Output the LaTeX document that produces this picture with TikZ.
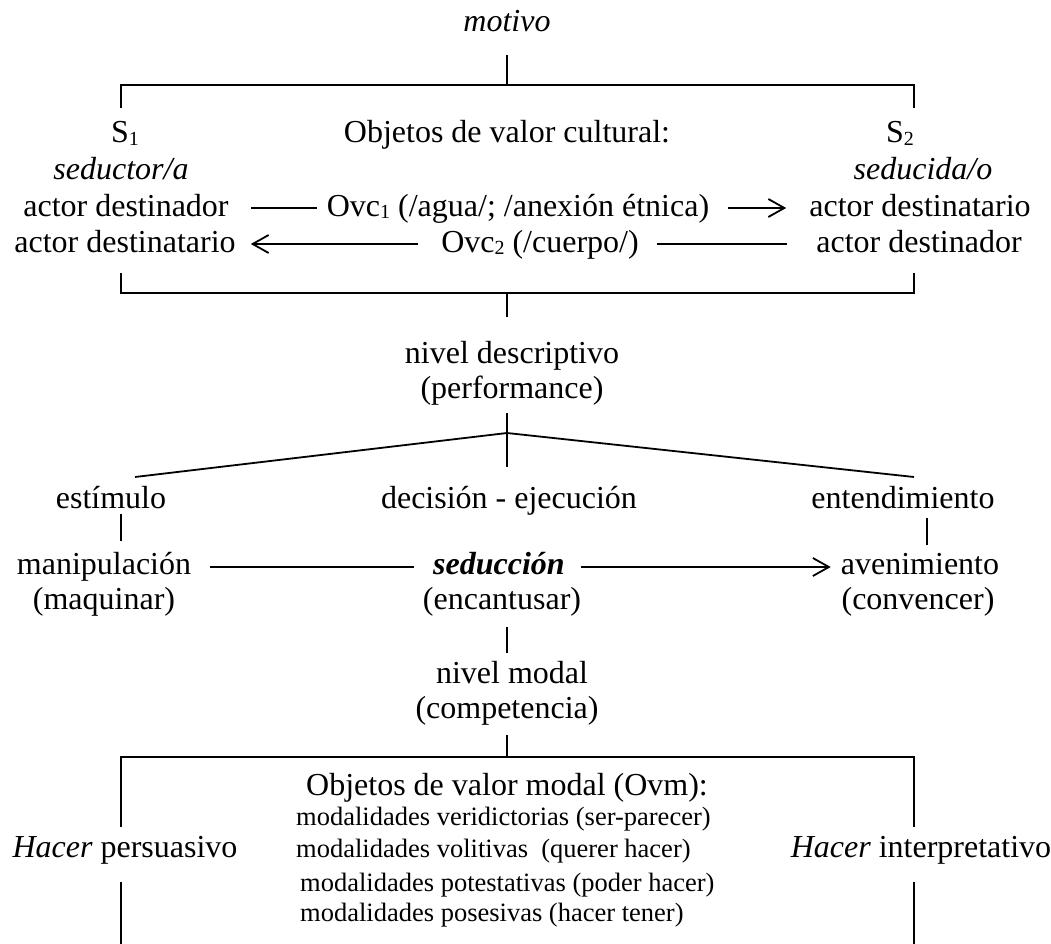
\documentclass[tikz,border=0pt]{standalone}
\usepackage{fontspec}
\setmainfont{Liberation Serif}
\usetikzlibrary{arrows.meta}
\newcommand{\lowsub}[1]{\raisebox{-0.08em}{\fontsize{20}{20}\selectfont #1}}
\tikzset{
  lbl/.style={inner sep=0pt, anchor=base, font=\fontsize{32}{38}\selectfont},
  sml/.style={inner sep=0pt, anchor=base west, font=\fontsize{26.5}{30}\selectfont},
  ln/.style={line width=1.8pt},
  arr/.style={line width=1.8pt, -{Straight Barb[length=16pt,width=18pt,line width=1.8pt]}}
}
\begin{document}
\begin{tikzpicture}[x=1pt,y=-1pt]
\useasboundingbox (0,0) rectangle (1051,944);
% texts
\node[lbl] (motivo) at (507,32) {\itshape motivo};
\node[lbl] (s1) at (125,143) {S\lowsub{1}};
\node[lbl] (ovc) at (507,143) {Objetos de valor cultural:};
\node[lbl] (s2) at (900,143) {S\lowsub{2}};
\node[lbl] (sedr) at (121,179) {\itshape seductor/a};
\node[lbl] (sedd) at (923,179) {\itshape seducida/o};
\node[lbl] (ad1) at (126,216) {actor destinador};
\node[lbl] (ovc1) at (518,216) {Ovc\lowsub{1} (/agua/; /anexión étnica)};
\node[lbl] (adt1) at (920,216) {actor destinatario};
\node[lbl] (adt2) at (125,252) {actor destinatario};
\node[lbl] (ovc2) at (540,252) {Ovc\lowsub{2} (/cuerpo/)};
\node[lbl] (ad2) at (919,252) {actor destinador};
\node[lbl] (nd) at (512,363) {nivel descriptivo};
\node[lbl] (perf) at (512,398) {(performance)};
\node[lbl] (est) at (111,508) {estímulo};
\node[lbl] (dec) at (509,508) {decisión - ejecución};
\node[lbl] (ent) at (903,508) {entendimiento};
\node[lbl] (man) at (104,574) {manipulación};
\node[lbl] (sed) at (499,574) {\bfseries\itshape seducción};
\node[lbl] (ave) at (920,574) {avenimiento};
\node[lbl] (maq) at (104,609) {(maquinar)};
\node[lbl] (enc) at (502,609) {(encantusar)};
\node[lbl] (con) at (918,609) {(convencer)};
\node[lbl] (nm) at (512,683) {nivel modal};
\node[lbl] (comp) at (507,718) {(competencia)};
\node[lbl] (ovm) at (507,795) {Objetos de valor modal (Ovm):};
\node[sml] (m1) at (296,825) {modalidades veridictorias (ser-parecer)};
\node[sml] (m2) at (296,857) {modalidades volitivas\ \ (querer hacer)};
\node[sml] (m3) at (300,891) {modalidades potestativas (poder hacer)};
\node[sml] (m4) at (300,921) {modalidades posesivas (hacer tener)};
\node[lbl] (hp) at (125,857) {\itshape Hacer\upshape{} persuasivo};
\node[lbl] (hi) at (921,857) {\itshape Hacer\upshape{} interpretativo};
% junction coordinates
\coordinate (tj) at (507,85);
\coordinate (tl) at (121,85);
\coordinate (tr) at (914,85);
\coordinate (bj) at (507,293);
\coordinate (bl) at (121,293);
\coordinate (br) at (914,293);
\coordinate (apex) at (507,433);
\coordinate (mj) at (507,757);
\coordinate (ml) at (121,757);
\coordinate (mr) at (914,757);
% top bracket
\draw[ln] (507,55) -- (tj);
\draw[ln] (121,108) -- (tl) -- (tr) -- (914,108);
% arrows between actors
\draw[ln] ([xshift=22pt,yshift=8pt]ad1.base east) -- ([xshift=-10pt,yshift=8pt]ovc1.base west);
\draw[arr] ([xshift=19pt,yshift=8pt]ovc1.base east) -- ([xshift=-23pt,yshift=8pt]adt1.base west);
\draw[arr] ([xshift=-23pt,yshift=8pt]ovc2.base west) -- ([xshift=15pt,yshift=8pt]adt2.base east);
\draw[ln] ([xshift=18pt,yshift=8pt]ovc2.base east) -- ([xshift=-29pt,yshift=8pt]ad2.base west);
% bottom bracket
\draw[ln] (121,273) -- (bl) -- (br) -- (914,273);
\draw[ln] (bj) -- (507,317);
% descriptive tree
\draw[ln] (507,413) -- (507,467);
\draw[ln] (135,477) -- (apex) -- (914,477);
\draw[ln] (121,514) -- (121,541);
\draw[ln] (927,518) -- (927,545);
\draw[ln] ([xshift=19pt,yshift=7pt]man.base east) -- ([xshift=-19pt,yshift=7pt]sed.base west);
\draw[arr] ([xshift=16pt,yshift=7pt]sed.base east) -- ([xshift=-10pt,yshift=7pt]ave.base west);
\draw[ln] (507,627) -- (507,653);
% modal bracket
\draw[ln] (507,735) -- (mj);
\draw[ln] (121,827) -- (ml) -- (mr) -- (914,827);
\draw[ln] (121,882) -- (121,944);
\draw[ln] (914,882) -- (914,944);
\end{tikzpicture}
\end{document}
